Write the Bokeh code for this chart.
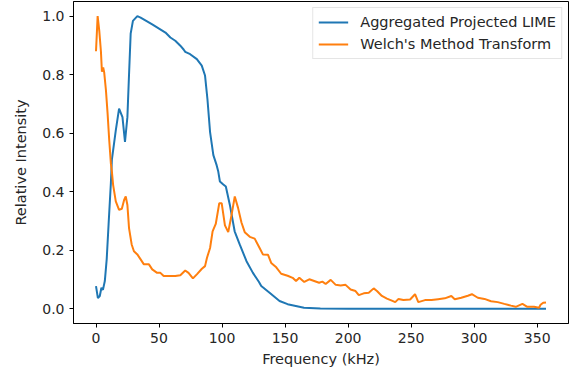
from bokeh.plotting import figure
from bokeh.models import Range1d, FixedTicker, Legend, LegendItem
from bokeh.embed import file_html
from bokeh.resources import INLINE

# Aggregated Projected LIME
lime_freq = [0, 1.5, 3, 4.3, 5.5, 7, 8.5, 10, 11.8, 12.6,
             15.7, 18.3, 21, 23, 24.9, 26.2, 27.5, 29.3, 32.8, 35.4,
             44.6, 55.1, 59, 62.9, 66.9, 69.5, 70.8, 74.7, 80, 83.9,
             86.5, 88.4, 90.5, 93.1, 95.7, 97, 98.3, 101, 103, 106.2,
             110, 114, 119.4, 124.5, 129.3, 131.1, 137.7, 145.6, 152, 165,
             178, 200, 250, 300, 357]
lime_val = [0.078, 0.037, 0.044, 0.072, 0.065, 0.095, 0.17, 0.29, 0.43, 0.51,
            0.61, 0.684, 0.655, 0.57, 0.655, 0.8, 0.94, 0.984, 1.0, 0.995,
            0.972, 0.944, 0.927, 0.916, 0.899, 0.886, 0.878, 0.87, 0.853, 0.831,
            0.797, 0.717, 0.604, 0.525, 0.491, 0.469, 0.435, 0.425, 0.418, 0.355,
            0.265, 0.22, 0.163, 0.123, 0.092, 0.078, 0.055, 0.027, 0.016, 0.004,
            0.001, 0.0, 0.0, 0.0, 0.0]

# Welch's Method Transform
welch_freq = [0, 1.3, 2.6, 3.9, 4.7, 5.7, 6.5, 7.9, 9.2, 10.5,
              11.8, 12.6, 13.6, 15.7, 18.3, 20.5, 22.3, 23.6, 24.9, 26.2,
              28.3, 30.1, 32.8, 35.4, 38, 42, 44.6, 48.5, 51.1, 53.7,
              57.7, 62.9, 66.9, 70.8, 73.4, 76.9, 80, 84, 86.5, 88,
              90.5, 92.5, 95, 97.8, 99.7, 102.3, 104.9, 107.5, 110.1, 112.7,
              115.4, 118, 122, 125.9, 129.8, 132.4, 136.4, 139, 143, 146.9,
              152, 156, 158.7, 161.3, 165.2, 169.2, 173.1, 177, 179.6, 182.2,
              186.2, 190.2, 194.1, 198, 202, 205.9, 208.5, 212.4, 216.4, 220.3,
              222.9, 226.8, 230.8, 234.7, 237.4, 240, 243.9, 249.2, 253.1, 255.7,
              261, 266.2, 271.4, 276.7, 281.9, 284.6, 289.8, 295, 298.2, 302.9,
              308.2, 313.4, 318.7, 323.9, 329.2, 333, 338.3, 342.2, 347.5, 351.5,
              352.7, 354.8, 357]
welch_val = [0.88, 1.0, 0.95, 0.88, 0.81, 0.825, 0.808, 0.746, 0.667, 0.576,
             0.497, 0.469, 0.423, 0.367, 0.338, 0.342, 0.372, 0.384, 0.355, 0.276,
             0.22, 0.197, 0.186, 0.169, 0.152, 0.152, 0.135, 0.123, 0.123, 0.112,
             0.112, 0.112, 0.115, 0.131, 0.123, 0.104, 0.118, 0.137, 0.146, 0.174,
             0.208, 0.265, 0.29, 0.361, 0.361, 0.285, 0.262, 0.32, 0.384, 0.345,
             0.295, 0.262, 0.246, 0.24, 0.208, 0.186, 0.185, 0.157, 0.142, 0.12,
             0.113, 0.106, 0.095, 0.106, 0.092, 0.101, 0.095, 0.089, 0.093, 0.085,
             0.099, 0.082, 0.08, 0.082, 0.066, 0.061, 0.047, 0.053, 0.055, 0.07,
             0.061, 0.044, 0.035, 0.028, 0.023, 0.034, 0.03, 0.032, 0.05, 0.023,
             0.03, 0.03, 0.033, 0.036, 0.044, 0.033, 0.038, 0.045, 0.05, 0.038,
             0.034, 0.026, 0.023, 0.017, 0.011, 0.007, 0.017, 0.007, 0.007, 0.004,
             0.014, 0.021, 0.022]

x_ticks = [0, 50, 100, 150, 200, 250, 300, 350]
y_ticks = [0.0, 0.2, 0.4, 0.6, 0.8, 1.0]
y_tick_labels = ["0.0", "0.2", "0.4", "0.6", "0.8", "1.0"]
series_names = ["Aggregated Projected LIME", "Welch's Method Transform"]

FONT = "DejaVu Sans"
TXT = "#262626"

p = figure(width=580, height=375, output_backend="svg", toolbar_location=None,
           x_range=Range1d(-17.85, 374.85), y_range=Range1d(-0.05, 1.05))
p.min_border_left = 73
p.min_border_right = 12
p.min_border_top = 1
p.min_border_bottom = 52
p.background_fill_color = "white"
p.border_fill_color = "white"
p.outline_line_color = "black"
p.outline_line_width = 1
p.xgrid.visible = False
p.ygrid.visible = False

r1 = p.line(lime_freq, lime_val, line_color="#1f77b4", line_width=2)
r2 = p.line(welch_freq, welch_val, line_color="#ff7f0e", line_width=2)

for ax in (p.xaxis[0], p.yaxis[0]):
    ax.axis_line_color = "black"
    ax.major_tick_line_color = "black"
    ax.major_tick_out = 4
    ax.major_tick_in = 0
    ax.minor_tick_line_color = None
    ax.major_label_text_font = FONT
    ax.major_label_text_font_size = "14px"
    ax.major_label_text_color = TXT
    ax.axis_label_text_font = FONT
    ax.axis_label_text_font_size = "14.5px"
    ax.axis_label_text_font_style = "normal"
    ax.axis_label_text_color = TXT
    ax.major_label_standoff = 5

p.xaxis.ticker = FixedTicker(ticks=x_ticks)
p.yaxis.ticker = FixedTicker(ticks=y_ticks)
p.yaxis.major_label_overrides = {t: l for t, l in zip(y_ticks, y_tick_labels)}
p.xaxis.axis_label = "Frequency (kHz)"
p.yaxis.axis_label = "Relative Intensity"
p.xaxis.axis_label_standoff = 5
p.yaxis.axis_label_standoff = 10

legend = Legend(items=[LegendItem(label=series_names[0], renderers=[r1]),
                       LegendItem(label=series_names[1], renderers=[r2])],
                location="top_right")
legend.label_text_font = FONT
legend.label_text_font_size = "14.5px"
legend.label_text_color = TXT
legend.border_line_color = "#cccccc"
legend.border_line_width = 1
legend.background_fill_color = "white"
legend.background_fill_alpha = 0.8
legend.padding = 5
legend.spacing = 4
legend.margin = 6
legend.glyph_width = 30
legend.glyph_height = 18
legend.label_height = 18
legend.label_standoff = 12
p.add_layout(legend)

open("out.html", "w").write(file_html(p, INLINE))
